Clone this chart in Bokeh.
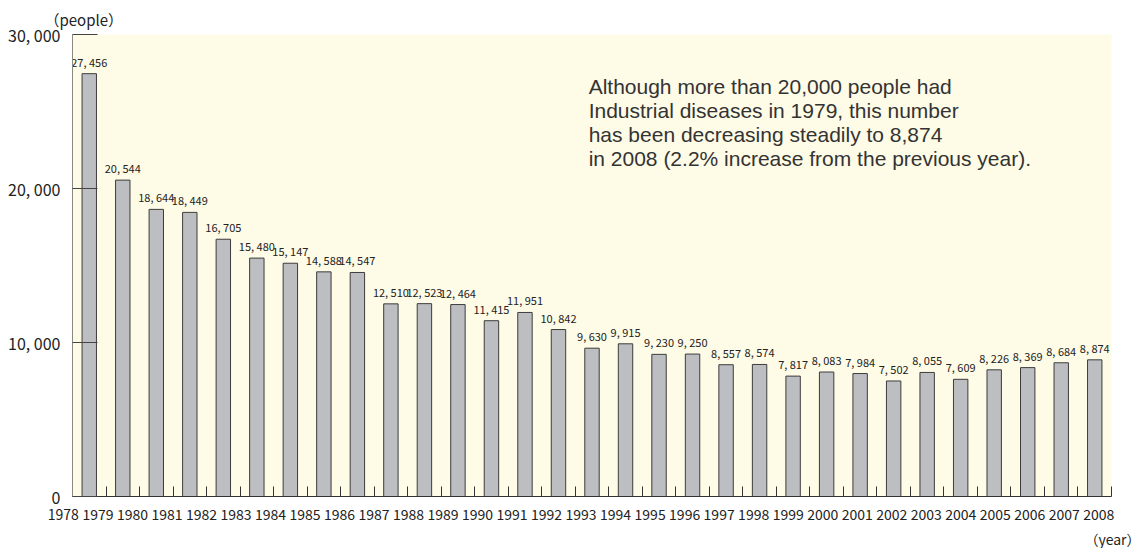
import numpy as np
from bokeh.plotting import figure
from bokeh.models import (ColumnDataSource, FixedTicker, Label, Range1d, LinearAxis, Title)
from bokeh.core.properties import value
from bokeh.embed import file_html
from bokeh.resources import INLINE

years = list(range(1978, 2009))
cases = [27456, 20544, 18644, 18449, 16705, 15480, 15147, 14588, 14547, 12510,
         12523, 12464, 11415, 11951, 10842, 9630, 9915, 9230, 9250, 8557,
         8574, 7817, 8083, 7984, 7502, 8055, 7609, 8226, 8369, 8684, 8874]
y_ticks = [0, 10000, 20000, 30000]
note_lines = [
    "Although more than 20,000 people had",
    "Industrial diseases in 1979, this number",
    "has been decreasing steadily to 8,874",
    "in 2008 (2.2% increase from the previous year).",
]

n = len(cases)
centers = np.arange(n) + 0.5
bar_labels = [f"{v:,}".replace(",", ", ") for v in cases]

CJK = "Noto Sans CJK JP"

p = figure(width=1144, height=548, x_range=Range1d(0, n), y_range=Range1d(0, 30000),
           output_backend="svg", toolbar_location=None,
           min_border_left=72, min_border_right=33, min_border_top=34, min_border_bottom=4)
p.background_fill_color = "#FEFBE7"
p.border_fill_color = "white"
p.outline_line_color = None
p.xgrid.visible = False
p.ygrid.visible = False

src = ColumnDataSource(dict(x=centers, top=cases, lab=bar_labels))
p.vbar(x="x", top="top", width=0.43, source=src, fill_color="#BDBEC2",
       line_color="#3c3c3c", line_width=1)
p.text(x="x", y="top", text="lab", source=src, text_align="center",
       text_baseline="alphabetic", y_offset=-12, text_font=value(CJK),
       text_font_size="11px", text_color="#222222")

# x axis: boundary tick marks only
xa = p.xaxis[0]
xa.ticker = FixedTicker(ticks=[], minor_ticks=list(range(0, n + 1)))
xa.axis_line_color = "#333333"
xa.major_tick_line_color = None
xa.minor_tick_in = 10
xa.minor_tick_out = 0
xa.minor_tick_line_color = "#333333"
xa.major_label_text_font_size = "0px"
xa.major_label_standoff = 0

# year labels on a second axis, spread a little wider than the bar slots
label_pos = -0.27 + np.arange(len(years)) * (30.89 / (len(years) - 1))
tick_pos, tick_txt = [], []
for x, y in zip(label_pos, years):
    if x < 0:
        # keep the tick inside the range, pad the label so its digits sit further left
        tick_pos.append(0.0)
        tick_txt.append(str(y) + "\u2007\u2007\u2009")
    else:
        tick_pos.append(float(x))
        tick_txt.append(str(y))
xb = LinearAxis(ticker=FixedTicker(ticks=tick_pos))
xb.major_label_overrides = dict(zip(tick_pos, tick_txt))
xb.axis_line_color = None
xb.major_tick_line_color = None
xb.minor_tick_line_color = None
xb.major_label_text_font = CJK
xb.major_label_text_font_size = "14px"
xb.major_label_text_color = "#222222"
xb.major_label_standoff = 1
p.add_layout(xb, "below")

# y axis
ya = p.yaxis[0]
ya.ticker = FixedTicker(ticks=y_ticks)
ya.major_label_overrides = {t: f"{t:,}".replace(",", ", ") for t in y_ticks}
ya.axis_line_color = "#8a8a80"
ya.major_tick_in = 25
ya.major_tick_out = 0
ya.major_tick_line_color = "#444444"
ya.minor_tick_line_color = None
ya.major_label_text_font = CJK
ya.major_label_text_font_size = "16px"
ya.major_label_text_color = "#222222"
ya.major_label_standoff = 12

p.add_layout(Title(text="（people）", align="left", offset=-28, text_font=CJK,
                   text_font_size="15px", text_font_style="normal",
                   text_color="#222222", standoff=10), "above")
p.add_layout(Title(text="（year）", align="right", offset=-29, text_font=CJK,
                   text_font_size="14px", text_font_style="normal",
                   text_color="#222222", standoff=0), "below")

for i, line in enumerate(note_lines):
    p.add_layout(Label(x=15.4, y=26650, y_offset=-24 * i, text=line,
                       text_align="left", text_baseline="alphabetic",
                       text_font="Liberation Sans", text_font_size="21px",
                       text_color="#333333"))

open("out.html", "w").write(file_html(p, INLINE))
